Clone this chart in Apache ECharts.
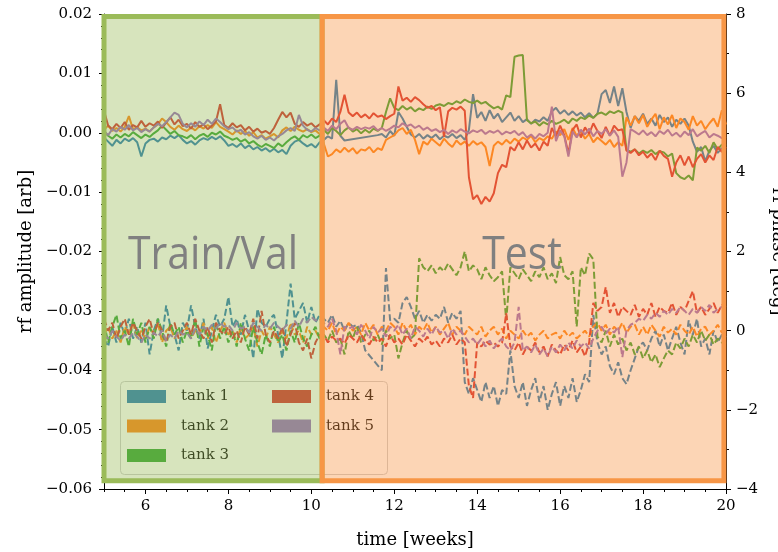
<!DOCTYPE html>
<html>
<head>
<meta charset="utf-8">
<script src="https://cdn.jsdelivr.net/npm/echarts@6.0.0/dist/echarts.min.js"></script>
<style>
html, body { margin: 0; padding: 0; background: #fff; }
#chart { width: 778px; height: 552px; }
</style>
</head>
<body>
<div id="chart"></div>
<script>
// time axis: one sample every 0.1 week from 5 to 20
const weeks = Array.from({ length: 151 }, (_, i) => +(5 + i * 0.1).toFixed(1))
const xTicks = [6, 8, 10, 12, 14, 16, 18, 20]

const tankNames = ['tank 1', 'tank 2', 'tank 3', 'tank 4', 'tank 5']
const tankColors = ['#1f77b4', '#ff7f0e', '#2ca02c', '#d62728', '#9467bd']

// rf amplitude, in units of 1e-3 arb (one row per week)
const amp1 = [
  -0.8,-1.5,-2.2,-1.2,-1.8,-1.0,-1.4,-0.9,-1.6,-4.0,
  -1.8,-1.2,-1.0,-1.5,-0.8,-1.1,-0.5,-0.9,-0.4,-1.2,
  -1.8,-1.4,-2.0,-1.3,-0.9,-1.2,-0.7,-1.1,-0.6,-1.3,
  -2.2,-1.9,-2.4,-1.8,-2.6,-2.1,-2.8,-2.4,-3.0,-2.6,
  -3.2,-2.7,-3.3,-2.9,-3.6,-2.2,-1.5,-1.2,-1.8,-2.3,
  -1.9,-2.5,-1.6,-1.2,-0.6,-1.0,8.9,-0.5,-1.3,null,
  null,null,null,null,null,null,-0.4,-0.2,-0.8,0.3,
  -0.5,3.5,2.4,1.0,-0.3,-0.8,-0.2,-1.0,-0.4,-0.9,
  -0.3,-1.1,-0.5,-0.8,-0.2,-0.9,-0.4,-1.2,0.5,6.5,
  2.5,3.5,2.0,3.8,2.4,3.2,1.8,2.6,3.4,2.0,
  2.8,1.8,2.3,1.5,2.2,1.9,2.6,2.0,3.6,4.2,
  3.2,3.8,3.0,3.6,2.9,3.4,2.6,3.3,2.5,3.2,
  6.5,7.2,5.0,7.8,4.5,7.5,3.5,0.8,2.8,2.0,
  3.2,1.5,2.4,1.2,3.0,1.8,2.6,1.0,2.2,1.5,
  2.4,1.2,-1.5,-3.2,-2.4,-4.8,-3.0,-2.2,-3.4,-2.6,
  -3.0
]
const amp2 = [
  0.5,1.2,0.3,0.8,0.2,1.0,2.8,0.6,0.9,0.4,
  0.7,0.2,0.9,1.4,2.4,1.8,1.0,0.5,1.2,0.6,
  0.3,0.9,0.4,1.1,0.7,1.3,0.8,1.8,1.0,0.6,
  0.2,-0.3,0.4,-0.2,0.3,-0.5,0.1,-0.8,-0.4,-1.0,
  -0.6,-0.2,-0.8,0.4,0.9,0.3,1.0,0.5,0.2,0.6,
  0.1,0.4,-0.2,-1.8,-4.0,-3.6,-2.8,-3.3,-2.5,-3.2,
  -2.6,-3.5,-2.8,-3.0,-2.4,-3.3,-2.6,-2.9,-1.2,-0.8,
  -0.4,0.4,0.8,-0.2,0.5,-1.2,-3.6,-1.5,-2.0,-1.0,
  -1.6,-2.2,-1.0,-1.8,-2.4,-1.3,-2.0,-1.5,-2.2,-1.4,
  -2.0,-1.6,-2.4,-5.6,-2.2,-1.5,-2.0,-1.2,-1.8,-1.0,
  -1.5,-0.8,-1.2,-0.5,-1.6,-0.9,-1.3,-0.6,-1.0,0.2,
  -0.4,0.6,-1.2,0.8,-0.5,0.3,-1.0,-0.2,-1.6,-0.8,
  -1.4,-2.0,-1.2,-2.4,-1.6,-2.2,2.6,1.2,2.8,1.6,
  3.0,1.0,2.2,3.2,0.6,2.6,1.4,3.0,0.8,2.4,
  1.8,0.5,2.8,1.2,2.0,0.6,1.6,2.4,1.0,3.8,
  1.4
]
const amp3 = [
  0.2,-0.5,-1.0,-0.3,-0.8,-0.2,-0.6,0.1,-0.4,-0.9,
  -0.3,-0.7,-0.1,0.4,1.2,0.5,-0.2,0.3,-0.4,-0.6,
  -0.9,-0.4,-1.1,-0.5,-0.2,-0.7,0.0,-0.3,0.2,-0.5,
  -0.8,-1.2,-0.9,-1.5,-1.1,-1.8,-1.4,-2.0,-2.4,-1.9,
  -2.2,-2.6,-1.8,-2.3,-1.6,-1.0,-0.6,-1.2,-0.4,-0.8,
  -0.3,-0.9,-0.5,0.5,-0.2,0.8,0.3,-0.4,0.4,0.9,
  0.2,0.6,-0.1,0.5,0.0,0.7,0.3,0.8,3.5,5.8,
  4.2,3.8,4.5,3.9,4.3,3.6,4.1,3.8,4.4,4.0,
  4.6,4.8,4.5,5.0,4.8,5.3,5.0,5.6,5.2,5.0,
  5.4,4.9,5.2,4.6,4.1,4.4,3.9,6.3,6.0,12.8,
  13.0,13.1,2.1,1.6,1.9,1.2,1.8,1.4,2.0,1.5,
  1.8,2.2,1.6,2.4,2.0,2.6,2.3,2.9,2.5,3.2,
  3.4,3.0,3.6,3.3,3.7,3.4,-2.9,-3.2,-2.8,-3.5,
  -3.0,-3.4,-2.9,-3.6,-3.1,-3.3,-4.0,-3.5,-6.8,-7.5,
  -7.8,-7.2,-8.0,-2.5,-3.0,-2.2,-3.4,-1.6,-2.8,-2.0,
  -1.8
]
const amp4 = [
  3.7,1.2,0.6,1.5,0.8,1.8,0.5,1.3,0.9,2.0,
  1.0,1.6,1.2,1.9,0.8,1.7,2.6,1.4,2.2,1.1,
  1.5,0.7,1.8,1.0,1.4,0.6,1.2,1.9,4.8,1.3,
  0.8,1.6,0.9,1.3,0.4,1.0,0.2,0.7,0.0,0.3,
  -0.2,0.8,2.2,3.5,2.6,3.4,1.5,1.0,1.8,1.2,
  1.6,0.9,1.4,2.1,1.4,2.4,1.8,3.5,6.4,3.4,
  2.8,3.4,2.6,3.1,2.4,3.3,2.7,2.9,2.3,2.8,
  3.2,7.8,5.4,5.9,5.2,6.0,5.5,4.8,4.2,4.5,
  3.8,4.3,-0.7,3.6,4.2,3.9,4.4,3.7,-7.5,-11.2,
  -10.5,-12.0,-10.8,-11.6,-10.2,-6.8,-5.4,-5.8,-2.4,-3.0,
  -1.6,-2.8,-1.3,-2.5,-1.8,-3.0,-1.5,-2.2,0.8,-0.6,
  1.2,-0.4,-3.5,0.5,1.4,-0.8,0.9,-0.2,1.6,0.3,
  -0.9,1.0,-0.5,1.2,0.4,0.6,-3.0,-3.4,-2.8,-3.8,
  -3.2,-4.2,-3.5,-4.6,-3.0,-3.9,-4.4,-7.4,-5.0,-3.8,
  -5.5,-4.0,-5.8,-4.4,-3.6,-5.0,-3.8,-4.6,-2.4,-3.2,
  -2.4
]
const amp5 = [
  0.3,-0.4,0.6,0.2,1.0,0.5,1.3,0.4,0.8,0.1,
  0.6,0.2,0.9,1.5,1.1,1.8,2.6,3.4,3.0,1.5,
  0.9,1.6,1.0,1.9,1.3,2.2,1.5,2.4,1.8,1.1,
  0.6,0.9,0.2,0.5,-0.3,0.1,-0.6,-1.0,-0.5,-1.2,
  -0.8,-1.3,-0.6,-0.2,0.4,0.8,0.3,3.0,1.2,0.5,
  0.2,0.8,0.4,0.9,0.3,1.2,0.6,1.5,2.1,0.8,
  0.5,1.0,0.6,0.9,0.7,1.1,0.4,0.8,0.3,0.7,
  1.2,0.9,1.6,1.1,1.4,0.8,1.2,0.5,0.9,0.3,
  0.6,0.1,0.5,-0.2,0.4,0.0,0.6,0.2,-0.1,0.4,
  0.1,0.5,-0.2,0.3,0.0,0.4,-0.3,0.2,-0.1,0.3,
  -0.4,0.1,-0.8,-0.3,-1.0,-0.2,-0.6,0.0,4.4,-1.4,
  0.4,-0.6,-4.0,0.2,-0.8,0.5,-0.3,0.7,-0.6,0.3,
  -0.2,0.6,-0.5,0.4,-0.7,-7.4,-5.0,0.6,0.2,-0.3,
  0.4,-0.4,0.1,-0.6,0.3,-0.2,0.5,-0.5,0.0,-0.7,
  0.2,-0.4,0.6,-0.6,-0.1,0.3,-0.8,-0.2,-0.5,-0.9,
  -0.7
]

// rf phase, in degrees
const phase1 = [
  -0.2,-0.4,0.1,-0.3,0.2,-0.1,0.3,-0.2,0.1,-0.3,
  0.2,-0.6,0.0,0.3,-0.2,0.64,0.1,-0.1,-0.5,0.2,
  0.0,0.64,0.1,-0.2,0.3,-0.45,0.0,0.4,0.1,0.3,
  0.85,0.1,0.3,-0.1,0.4,0.0,-0.7,0.55,0.2,0.1,
  0.3,0.4,-0.1,-0.7,0.2,1.19,0.3,0.5,0.7,0.2,
  0.6,0.2,0.4,0.3,0.2,0.4,0.1,0.25,0.0,0.2,
  0.1,0.15,-0.05,-0.5,null,null,null,-1.0,1.58,0.26,
  0.3,0.2,0.7,0.85,0.6,0.3,0.5,0.2,0.4,0.25,
  0.4,0.3,0.6,0.2,0.45,0.3,0.5,-1.3,-1.6,-1.2,
  -1.5,-1.8,-1.3,-1.7,-1.4,-1.9,-1.5,-1.6,-0.5,-1.4,
  -1.7,-1.3,-1.9,-1.5,-1.2,-1.8,-1.4,-2.0,-1.6,-1.3,
  -1.9,-1.4,-1.7,-1.2,-1.8,-1.5,-1.1,-1.3,0.4,-0.3,
  -0.6,-0.4,-0.9,-1.1,-0.8,-1.2,-1.35,-1.0,-0.7,-0.4,
  -0.3,-0.5,-0.2,0.0,-0.4,-0.1,-0.5,-0.2,0.1,-0.3,
  -0.6,0.26,-0.1,0.3,-0.4,-0.2,-0.6,0.0,-0.3,-0.1,
  -0.17
]
const phase2 = [
  -0.1,0.1,-0.2,0.0,-0.3,0.1,-0.1,0.2,-0.2,0.0,
  -0.2,0.1,-0.1,0.2,-0.3,0.0,0.1,-0.2,0.0,-0.1,
  0.1,-0.2,0.0,-0.1,0.2,-0.2,0.1,-0.3,0.0,0.2,
  -0.1,0.0,-0.3,0.1,-0.2,-0.1,0.1,-0.4,0.0,-0.2,
  0.1,-0.1,-0.3,0.0,-0.2,0.2,-0.1,0.0,-0.3,0.1,
  -0.1,0.0,-0.2,0.1,0.0,0.2,-0.1,0.1,0.0,0.2,
  0.0,0.1,-0.1,0.2,0.0,0.15,-0.1,0.1,0.0,0.2,
  0.1,-0.1,0.2,0.0,0.15,-0.1,0.1,0.0,0.2,-0.05,
  0.1,-0.1,0.05,0.2,-0.1,0.1,0.0,-0.1,0.1,0.0,
  -0.1,0.1,-0.15,0.0,0.1,-0.1,0.05,-0.2,0.0,-0.1,
  -0.2,0.0,-0.15,-0.05,-0.25,-0.1,0.0,-0.2,-0.1,-0.05,
  -0.2,0.0,-0.15,-0.05,-0.2,-0.1,0.0,-0.15,0.1,0.2,
  0.0,0.15,-0.1,0.1,0.0,0.2,-0.05,0.1,0.15,-0.1,
  0.1,-0.1,0.15,0.0,-0.15,0.1,-0.05,0.05,-0.1,0.15,
  0.0,-0.1,0.1,-0.15,0.05,0.1,-0.1,0.0,0.15,-0.05,
  0.1
]
const phase3 = [
  0.2,-0.3,0.1,0.4,-0.2,0.0,-0.4,0.3,-0.1,0.2,
  -0.3,0.1,-0.2,0.3,0.0,-0.4,0.2,-0.1,0.1,-0.3,
  0.0,-0.2,0.3,-0.4,0.1,-0.1,-0.5,0.2,-0.2,0.1,
  -0.3,0.0,-0.4,0.2,-0.2,-0.5,0.1,-0.3,-0.6,-0.1,
  -0.4,0.1,-0.3,-0.1,-0.5,0.0,-0.3,0.2,-0.2,-0.4,
  -0.1,0.1,-0.2,-0.1,-0.25,0.0,-0.3,-0.2,-0.6,0.0,
  -0.2,0.1,-0.3,-0.1,0.0,-0.25,-0.1,-0.35,0.0,-0.2,
  -0.1,-0.7,-0.3,0.0,-0.2,-0.1,1.83,1.6,1.5,1.65,
  1.45,1.6,1.5,1.7,1.55,1.4,1.6,2.0,1.5,1.65,
  1.55,1.3,1.6,1.4,1.25,1.35,1.5,0.26,1.6,1.45,
  1.3,1.55,1.4,1.25,1.5,1.35,1.6,1.3,1.45,1.2,
  1.86,1.4,1.3,1.5,0.1,1.6,1.4,1.95,1.8,-0.15,
  -0.3,0.0,-0.4,-0.1,-0.35,-0.2,-0.5,-0.3,-0.6,-0.4,
  -0.7,-0.5,-0.8,-0.6,-0.92,-0.7,-0.5,-0.6,-0.3,-0.45,
  -0.2,-0.4,-0.1,-0.3,0.0,-0.25,-0.1,-0.35,-0.2,-0.3,
  -0.33
]
const phase4 = [
  0.3,0.0,0.2,-0.2,0.1,0.3,-0.1,0.2,0.0,-0.2,
  0.1,0.3,-0.1,0.2,0.0,-0.3,0.1,0.2,-0.2,0.0,
  0.2,-0.1,0.3,0.0,-0.2,0.1,-0.3,0.2,0.0,-0.1,
  0.1,-0.2,0.0,-0.3,0.1,-0.1,0.3,-0.2,0.5,-0.1,
  -0.3,0.0,-0.2,0.1,-0.4,-0.1,0.2,-0.3,-0.5,-0.2,
  -0.7,-0.3,-0.1,-0.1,-0.3,-0.15,-0.25,-0.2,-0.33,-0.1,
  -0.2,-0.3,-0.1,-0.25,-0.35,-0.15,-0.3,-0.2,-0.4,-0.1,
  -0.3,-0.2,-0.35,-0.1,-0.25,-0.4,-0.2,-0.3,-0.15,-0.35,
  -0.25,-0.4,-0.2,-0.3,-0.1,-0.35,-0.2,-0.3,-1.4,-1.7,
  -0.3,-0.4,-0.25,-0.35,-0.3,-0.4,-0.3,0.44,-0.4,-0.5,
  -0.3,-0.6,-0.4,-0.5,-0.3,-0.55,-0.4,-0.65,-0.35,-0.5,
  -0.6,-0.35,-0.5,-0.25,-0.55,-0.4,-0.65,-0.3,0.7,0.5,
  0.6,1.1,0.45,0.7,0.35,0.6,0.5,0.4,0.65,0.35,
  0.55,0.4,0.7,0.35,0.6,0.5,0.45,0.7,0.4,0.6,
  0.5,0.75,1.0,0.45,0.6,0.4,0.55,0.7,0.45,0.65,
  0.6
]
const phase5 = [
  -0.1,-0.2,0.0,-0.15,-0.25,-0.1,-0.2,-0.05,-0.15,-0.3,
  -0.1,-0.2,-0.05,-0.15,0.0,-0.25,-0.1,-0.2,0.0,-0.1,
  -0.05,-0.2,0.05,-0.1,0.1,0.0,0.15,0.05,0.2,0.1,
  0.15,0.0,0.2,0.05,0.1,-0.05,0.2,0.1,0.0,0.15,
  0.05,0.2,0.1,0.0,0.15,0.05,0.25,0.1,0.3,0.2,
  0.35,0.25,0.3,0.2,0.1,0.3,0.0,-0.6,0.1,0.05,
  0.1,-0.1,0.15,0.0,-0.2,0.1,-0.05,0.05,-0.15,0.1,
  0.0,0.15,-0.1,0.05,-0.2,0.1,0.0,-0.15,0.05,-0.1,
  0.1,-0.05,0.0,-0.2,0.05,-0.1,0.0,-0.15,-0.3,-0.2,
  -0.35,-0.2,-0.4,-0.25,-0.45,-0.3,-0.2,-0.4,-0.5,-0.3,
  0.6,-0.5,-0.4,-0.55,-0.35,-0.6,-0.45,-0.65,-0.4,-0.55,
  -0.35,-0.5,-0.3,-0.45,-0.25,-0.4,-0.3,-0.45,-0.2,0.0,
  0.1,-0.08,0.05,-0.05,0.1,-0.67,0.0,0.15,0.2,0.3,
  0.25,0.4,0.3,0.45,0.35,0.5,0.4,0.55,0.45,0.6,
  0.5,0.4,0.55,0.45,0.6,0.5,0.65,0.45,0.55,0.6,
  0.6
]

const ampData = [amp1, amp2, amp3, amp4, amp5]
const phaseData = [phase1, phase2, phase3, phase4, phase5]

const serif = 'DejaVu Serif'
const minus = s => String(s).replace('-', '\u2212')
const pairs = arr => weeks.map((t, i) => [t, arr[i]])

const chart = echarts.init(document.getElementById('chart'))

let series = []
tankNames.forEach((name, k) => {
    series.push({
        name: name,
        type: 'line',
        xAxisIndex: 0,
        yAxisIndex: 0,
        data: pairs(ampData[k]),
        symbol: 'none',
        connectNulls: true,
        itemStyle: { color: tankColors[k] },
        lineStyle: { color: tankColors[k], width: 2 }
    })
})
tankNames.forEach((name, k) => {
    series.push({
        name: name,
        type: 'line',
        xAxisIndex: 0,
        yAxisIndex: 1,
        data: pairs(phaseData[k]),
        symbol: 'none',
        connectNulls: true,
        itemStyle: { color: tankColors[k] },
        lineStyle: { color: tankColors[k], width: 2, type: [7, 3] }
    })
})
// train / test shading, drawn over the lines
series.push({
    name: 'regions',
    type: 'line',
    xAxisIndex: 0,
    yAxisIndex: 0,
    data: [],
    markArea: {
        silent: true,
        z: 10,
        data: [
            [
                { xAxis: 5, yAxis: 19.6, itemStyle: { color: 'rgba(155,187,89,0.4)', borderColor: '#9bbb59', borderWidth: 5 } },
                { xAxis: 10.26, yAxis: -58.6 }
            ],
            [
                { xAxis: 10.26, yAxis: 19.6, itemStyle: { color: 'rgba(247,150,70,0.4)', borderColor: '#f79646', borderWidth: 5 } },
                { xAxis: 19.95, yAxis: -58.6 }
            ]
        ]
    }
})

const legendBase = {
    orient: 'vertical',
    top: 389,
    padding: 0,
    itemWidth: 39,
    itemHeight: 13,
    itemGap: 14.5,
    icon: 'rect',
    z: 3,
    textStyle: { fontFamily: serif, fontSize: 15, color: '#000', padding: [0, 0, 0, 10] }
}

const options = {
    animation: false,
    backgroundColor: '#fff',
    grid: { left: 104, right: 52, top: 14, bottom: 63, outerBoundsMode: 'none', containLabel: false },
    legend: [
        Object.assign({}, legendBase, { left: 127, data: ['tank 1', 'tank 2', 'tank 3'] }),
        Object.assign({}, legendBase, { left: 272, data: ['tank 4', 'tank 5'] })
    ],
    graphic: [
        {
            type: 'rect',
            z: 1,
            shape: { x: 120.5, y: 381.5, width: 267, height: 93, r: 4 },
            style: { fill: 'rgba(255,255,255,0.8)', stroke: '#cccccc', lineWidth: 1 }
        },
        {
            type: 'text',
            z: 20,
            x: 213,
            y: 256,
            scaleX: 0.89,
            style: { text: 'Train/Val', fontFamily: 'Open Sans', fontSize: 46, fill: '#808080', textAlign: 'center', textVerticalAlign: 'middle' }
        },
        {
            type: 'text',
            z: 20,
            x: 522,
            y: 256,
            scaleX: 0.89,
            style: { text: 'Test', fontFamily: 'Open Sans', fontSize: 46, fill: '#808080', textAlign: 'center', textVerticalAlign: 'middle' }
        }
    ],
    xAxis: [
        {
            type: 'value',
            min: 5,
            max: 20,
            name: 'time [weeks]',
            nameLocation: 'middle',
            nameGap: 42,
            nameTextStyle: { fontFamily: serif, fontSize: 18, color: '#000' },
            axisLine: { onZero: false, lineStyle: { color: '#000', width: 1 } },
            axisTick: { customValues: xTicks, length: 5, lineStyle: { color: '#000' } },
            axisLabel: { customValues: xTicks, fontFamily: serif, fontSize: 15, color: '#000', margin: 10 },
            splitLine: { show: false }
        },
        {
            // minor ticks every half week
            type: 'value',
            position: 'bottom',
            min: 5,
            max: 20,
            interval: 0.5,
            axisLine: { show: false, onZero: false },
            axisTick: { length: 3, lineStyle: { color: '#000' } },
            axisLabel: { show: false },
            splitLine: { show: false }
        }
    ],
    yAxis: [
        {
            type: 'value',
            position: 'left',
            min: -60,
            max: 20,
            interval: 10,
            name: 'rf amplitude [arb]',
            nameLocation: 'middle',
            nameRotate: 90,
            nameGap: 56,
            nameTextStyle: { fontFamily: serif, fontSize: 18, color: '#000' },
            axisLine: { show: true, onZero: false, lineStyle: { color: '#000', width: 1 } },
            axisTick: { show: true, length: 5, lineStyle: { color: '#000' } },
            minorTick: { show: true, splitNumber: 5, length: 3, lineStyle: { color: '#000' } },
            axisLabel: {
                fontFamily: serif, fontSize: 15, color: '#000', margin: 12,
                formatter: v => minus((v / 1000).toFixed(2))
            },
            splitLine: { show: false }
        },
        {
            type: 'value',
            position: 'right',
            min: -4,
            max: 8,
            interval: 2,
            name: 'rf phase [deg]',
            nameLocation: 'middle',
            nameRotate: -90,
            nameGap: 36,
            nameTextStyle: { fontFamily: serif, fontSize: 18, color: '#000' },
            axisLine: { show: true, onZero: false, lineStyle: { color: '#000', width: 1 } },
            axisTick: { show: true, length: 5, lineStyle: { color: '#000' } },
            minorTick: { show: true, splitNumber: 2, length: 3, lineStyle: { color: '#000' } },
            axisLabel: {
                fontFamily: serif, fontSize: 15, color: '#000', margin: 10,
                formatter: v => minus(v)
            },
            splitLine: { show: false }
        }
    ],
    series: series
}
chart.setOption(options)
</script>
</body>
</html>
